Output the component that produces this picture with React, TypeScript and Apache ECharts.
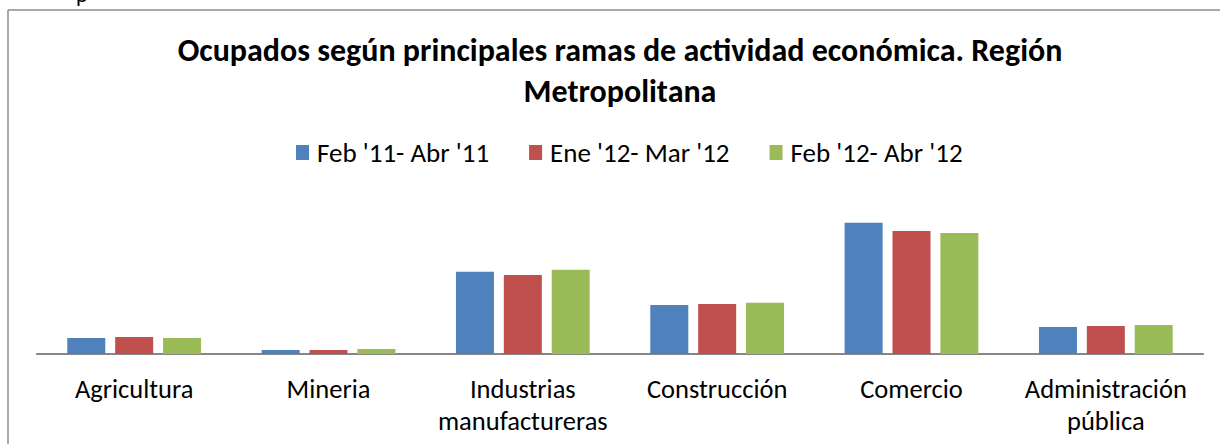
import React, { useEffect, useRef } from "react";
import * as echarts from "echarts";

const categories = [
  "Agricultura",
  "Mineria",
  "Industrias\nmanufactureras",
  "Construcción",
  "Comercio",
  "Administración\npública",
];
const seriesNames = ["Feb '11- Abr '11", "Ene '12- Mar '12", "Feb '12- Abr '12"];
const feb11Abr11 = [73, 18, 376, 224, 600, 124];
const ene12Mar12 = [78, 18, 362, 229, 563, 128];
const feb12Abr12 = [73, 23, 385, 234, 554, 133];
const colors = ["#4F81BD", "#C0504D", "#9BBB59"];

const FONT = "Carlito, 'Open Sans', 'Noto Sans', sans-serif";

export default function App() {
  const ref = useRef<HTMLDivElement>(null);
  useEffect(() => {
    document.body.style.margin = "0";
    const chart = echarts.init(ref.current!, undefined, { renderer: "svg" });
    const data = [feb11Abr11, ene12Mar12, feb12Abr12];
    chart.setOption({
      animation: false,
      textStyle: { fontFamily: FONT },
      title: {
        text: "Ocupados según principales ramas de actividad económica. Región\nMetropolitana",
        left: 615,
        textAlign: "center",
        top: 25,
        textStyle: {
          fontFamily: FONT,
          fontSize: 32,
          fontWeight: "bold",
          color: "#000",
          lineHeight: 41,
        },
      },
      legend: {
        left: 291,
        top: 134,
        itemWidth: 13,
        itemHeight: 15,
        itemGap: 40,
        icon: "rect",
        textStyle: { fontFamily: FONT, fontSize: 27, color: "#000", padding: [0, 0, 0, 3] },
        data: seriesNames,
      },
      grid: { left: 37, right: 17, top: 201, bottom: 90, containLabel: false },
      xAxis: {
        type: "category",
        data: categories,
        axisLine: { lineStyle: { color: "#868686", width: 2 } },
        axisTick: { show: false },
        axisLabel: {
          interval: 0,
          margin: 19,
          fontFamily: FONT,
          fontSize: 26.5,
          color: "#000",
          lineHeight: 32,
        },
      },
      yAxis: {
        type: "value",
        min: 0,
        max: 700,
        show: false,
        splitLine: { show: false },
      },
      series: seriesNames.map((name, i) => ({
        name,
        type: "bar",
        data: data[i],
        barWidth: 38,
        barGap: "26%",
        itemStyle: { color: colors[i] },
      })),
      graphic: [
        {
          type: "line",
          shape: { x1: 8, y1: 10, x2: 1220, y2: 10 },
          style: { stroke: "#8c8c8c", lineWidth: 1.5 },
        },
        {
          type: "line",
          shape: { x1: 8, y1: 10, x2: 8, y2: 444 },
          style: { stroke: "#8c8c8c", lineWidth: 1.5 },
        },
        {
          type: "text",
          x: 76,
          y: -17,
          style: { text: "p", fontFamily: FONT, fontSize: 22, fill: "#000" },
        },
      ],
    });
    return () => chart.dispose();
  }, []);
  return <div ref={ref} style={{ width: 1220, height: 444 }} />;
}
